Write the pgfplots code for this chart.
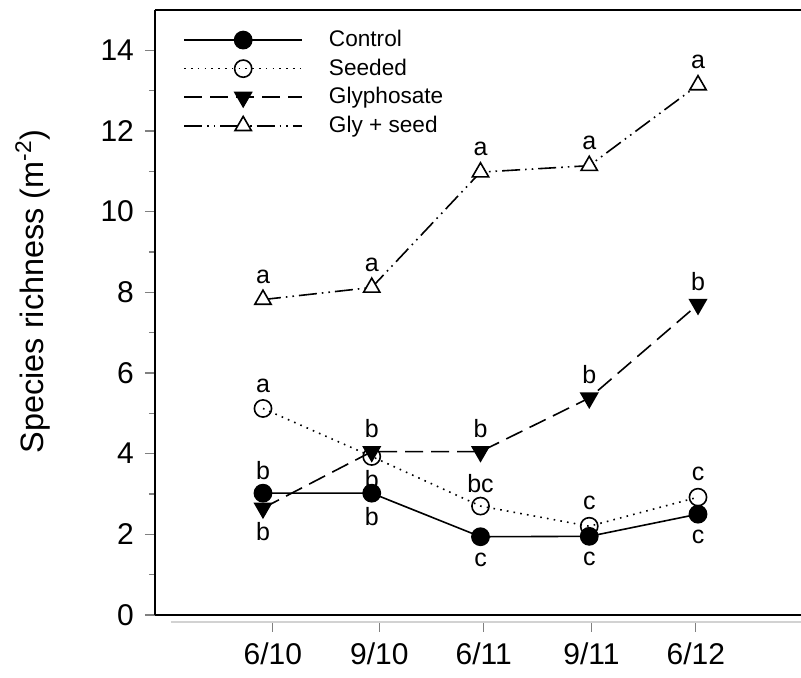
\documentclass[border=0pt]{standalone}
\usepackage{fontspec}
\setmainfont{Liberation Sans}
\usepackage{pgfplots}
\pgfplotsset{compat=1.18}
\begin{document}
\begin{tikzpicture}
\begin{axis}[
  scale only axis,
  width=323pt, height=302.5pt,
  xmin=-0.993, xmax=4.947,
  ymin=0, ymax=15,
  axis x line*=bottom, axis y line*=left,
  axis line style={line width=1pt},
  tick align=outside,
  major tick length=5pt, minor tick length=3pt,
  ytick={0,2,4,6,8,10,12,14},
  minor ytick={1,3,5,7,9,11,13},
  xtick={0.09,1.07,2.03,3.02,3.98},
  xticklabels={6/10,9/10,6/11,9/11,6/12},
  x tick style={yshift=-3.5pt, line width=0.6pt},
  y tick style={line width=0.8pt},
  /pgf/number format/assume math mode=true,
  tick label style={font=\fontsize{15}{17}\selectfont},
  yticklabel style={xshift=-2pt},
  xticklabel style={yshift=-5.5pt},
  ylabel={Species richness (m\textsuperscript{-2})},
  ylabel style={font=\fontsize{16.2}{18}\selectfont, at={(axis description cs:-0.189,0.535)}, anchor=center},
  legend style={draw=none, fill=none, at={(rel axis cs:0,1)}, anchor=north west, xshift=11pt, yshift=-6pt,
    font=\fontsize{11.3}{13}\selectfont, row sep=0.6pt,
    /tikz/every odd column/.append style={column sep=0pt}},
  legend cell align=left,
  legend image code/.code={\draw[mark repeat=2,mark phase=2,#1] plot coordinates {(0pt,0pt) (29.5pt,0pt) (59pt,0pt)};},
  every axis plot/.append style={line width=0.8pt},
  clip=false,
]
\addplot[black, solid, mark=*, mark size=4.3pt, mark options={solid, fill=black}]
  coordinates {(0,3.02) (1,3.02) (2,1.94) (3,1.95) (4,2.5)};
\addlegendentry{\hspace{11pt}Control}
\addplot[black, dash pattern=on 0.8pt off 2.6pt, mark=o, mark size=4.3pt, mark options={solid, fill=white}]
  coordinates {(0,5.12) (1,3.93) (2,2.7) (3,2.2) (4,2.92)};
\addlegendentry{\hspace{11pt}Seeded}
\addplot[black, dash pattern=on 9pt off 4pt, mark=triangle*, mark size=4.7pt, mark options={solid, fill=black, rotate=180}]
  coordinates {(0,2.65) (1,4.05) (2,4.05) (3,5.38) (4,7.7)};
\addlegendentry{\hspace{11pt}Glyphosate}
\addplot[black, dash pattern=on 9pt off 2.5pt on 0.8pt off 2.5pt on 0.8pt off 2.5pt, mark=triangle*, mark size=4.7pt, mark options={solid, fill=white}]
  coordinates {(0,7.82) (1,8.12) (2,10.98) (3,11.14) (4,13.14)};
\addlegendentry{\hspace{11pt}Gly + seed}
% letters above
\addplot[draw=none, mark=none, forget plot, nodes near coords, point meta=explicit symbolic,
  every node near coord/.style={anchor=center, yshift=11.5pt, font=\fontsize{12.5}{14}\selectfont}]
  coordinates {(0,7.82)[a] (1,8.12)[a] (2,10.98)[a] (3,11.14)[a] (4,13.14)[a]
               (1,4.05)[b] (2,4.05)[b] (3,5.38)[b] (4,7.7)[b]
               (0,5.12)[a] (2,2.7)[bc] (3,2.2)[c] (4,2.92)[c]
               (0,3.02)[b]};
% letters below
\addplot[draw=none, mark=none, forget plot, nodes near coords, point meta=explicit symbolic,
  every node near coord/.style={anchor=center, yshift=-11.5pt, font=\fontsize{12.5}{14}\selectfont}]
  coordinates {(0,2.65)[b] (1,3.93)[b] (1,3.02)[b] (2,1.94)[c] (3,1.95)[c] (4,2.5)[c]};
\draw[line width=1pt] (rel axis cs:0,1) -- (rel axis cs:1,1);
\draw[gray!35, line width=0.6pt] ([xshift=8pt, yshift=-3.5pt]rel axis cs:0,0) -- ([yshift=-3.5pt]rel axis cs:1,0);
\coordinate (bl) at (rel axis cs:0,0);
\coordinate (tr) at (rel axis cs:1,1);
\end{axis}
\pgfresetboundingbox
\path[use as bounding box] ([xshift=-77.5pt, yshift=-31.5pt]bl) rectangle ([yshift=5pt]tr);
\end{tikzpicture}
\end{document}
